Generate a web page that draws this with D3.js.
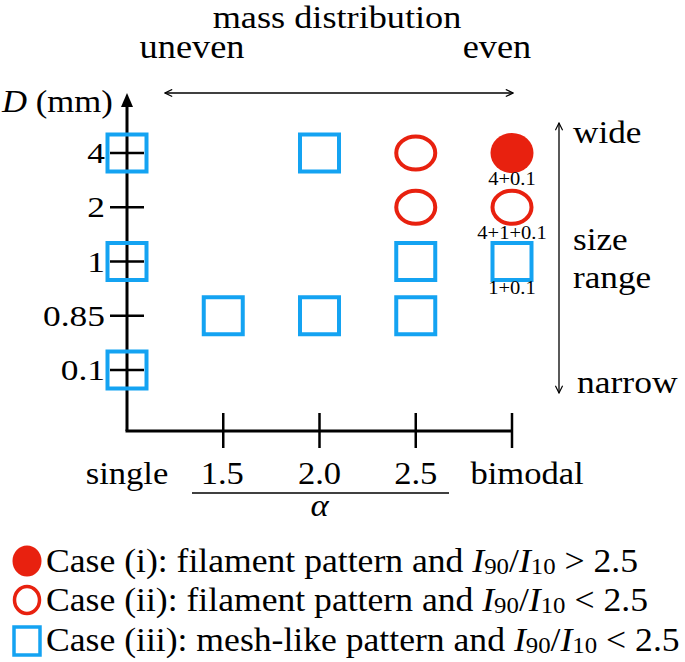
<!DOCTYPE html>
<html><head><meta charset="utf-8">
<script src="https://cdn.jsdelivr.net/npm/d3@7"></script>
<style>body{margin:0;background:#fff}svg{display:block}text{font-family:"Liberation Serif","Times New Roman",serif;fill:#000}</style>
</head><body><svg id="c" width="685" height="662"></svg>
<script>
const xCategories = ["single", "1.5", "2.0", "2.5", "bimodal"];
const yCategories = ["4", "2", "1", "0.85", "0.1"];
// case: "i" filled circle, "ii" open circle, "iii" open square
const points = [
  {x: "single", y: "4", c: "iii"},
  {x: "single", y: "1", c: "iii"},
  {x: "single", y: "0.1", c: "iii"},
  {x: "1.5", y: "0.85", c: "iii"},
  {x: "2.0", y: "4", c: "iii"},
  {x: "2.0", y: "0.85", c: "iii"},
  {x: "2.5", y: "4", c: "ii"},
  {x: "2.5", y: "2", c: "ii"},
  {x: "2.5", y: "1", c: "iii"},
  {x: "2.5", y: "0.85", c: "iii"},
  {x: "bimodal", y: "4", c: "i", label: "4+0.1"},
  {x: "bimodal", y: "2", c: "ii", label: "4+1+0.1"},
  {x: "bimodal", y: "1", c: "iii", label: "1+0.1"}
];
const legendItems = [
  {c: "i", text: "Case (i): filament pattern and ", op: "> 2.5"},
  {c: "ii", text: "Case (ii): filament pattern and ", op: "< 2.5"},
  {c: "iii", text: "Case (iii): mesh-like pattern and ", op: "< 2.5"}
];

const RED = "#e8210f", BLUE = "#14a3f2";
const svg = d3.select("#c");
const x = d3.scalePoint().domain(xCategories).range([127, 512]);
const y = d3.scalePoint().domain(yCategories).range([153, 370]);
const X0 = 127, Y0 = 431, YTOP = 95;

function txt(g, s, tx, ty, size, anchor, sx) {
  return g.append("text").attr("transform", `translate(${tx},${ty}) scale(${sx || 1.1},1)`)
    .attr("font-size", size).attr("text-anchor", anchor || "start").text(s);
}

// arrow markers
const defs = svg.append("defs");
defs.append("marker").attr("id", "open").attr("viewBox", "0 0 10 10").attr("refX", 9).attr("refY", 5)
  .attr("markerWidth", 9).attr("markerHeight", 9).attr("markerUnits", "userSpaceOnUse").attr("orient", "auto-start-reverse")
  .append("path").attr("d", "M1,1 L9,5 L1,9").attr("fill", "none").attr("stroke", "#000").attr("stroke-width", 1.3);

// axes
const ax = svg.append("g");
ax.append("line").attr("x1", X0).attr("x2", X0).attr("y1", Y0).attr("y2", YTOP + 10).attr("stroke", "#000").attr("stroke-width", 3);
ax.append("path").attr("d", `M${X0},${YTOP - 2} L${X0 - 6},${YTOP + 12} L${X0 + 6},${YTOP + 12} Z`).attr("fill", "#000");
ax.append("line").attr("x1", X0 - 1.5).attr("x2", x("bimodal")).attr("y1", Y0).attr("y2", Y0).attr("stroke", "#000").attr("stroke-width", 3);

// y ticks
yCategories.forEach(d => {
  ax.append("line").attr("x1", X0 - 17).attr("x2", X0 + 17).attr("y1", y(d)).attr("y2", y(d)).attr("stroke", "#000").attr("stroke-width", 2.5);
  txt(ax, d, 105, y(d) + 10, 30, "end", 1.18);
});
// x ticks
xCategories.slice(1).forEach(d => {
  ax.append("line").attr("x1", x(d)).attr("x2", x(d)).attr("y1", Y0 - 18).attr("y2", Y0 + 17).attr("stroke", "#000").attr("stroke-width", 2.5);
});
xCategories.forEach(d => {
  const off = d === "bimodal" ? 15 : (d === "1.5" ? -1 : 0);
  txt(ax, d, x(d) + off, 484, 32, "middle", 1.08);
});
ax.append("line").attr("x1", 192).attr("x2", 449).attr("y1", 493).attr("y2", 493).attr("stroke", "#000").attr("stroke-width", 1.5);
txt(ax, "α", x("2.0"), 516, 32, "middle", 1.08).attr("font-style", "italic");

// y title
const yt = svg.append("text").attr("transform", "translate(2,112) scale(1.12,1)").attr("font-size", 31);
yt.append("tspan").attr("font-style", "italic").text("D");
yt.append("tspan").text(" (mm)");

// top annotation
txt(svg, "mass distribution", 337, 28, 31, "middle", 1.17);
txt(svg, "uneven", 192, 58, 33, "middle", 1.1);
txt(svg, "even", 497, 58, 33, "middle", 1.1);
svg.append("line").attr("x1", 165).attr("x2", 513).attr("y1", 93).attr("y2", 93).attr("stroke", "#000").attr("stroke-width", 1.3)
  .attr("marker-start", "url(#open)").attr("marker-end", "url(#open)");

// right annotation
svg.append("line").attr("x1", 559).attr("x2", 559).attr("y1", 123).attr("y2", 393).attr("stroke", "#000").attr("stroke-width", 1.3)
  .attr("marker-start", "url(#open)").attr("marker-end", "url(#open)");
txt(svg, "wide", 573, 143, 32, "start", 1.1);
txt(svg, "size", 573, 250, 32, "start", 1.1);
txt(svg, "range", 573, 288, 32, "start", 1.1);
txt(svg, "narrow", 577, 393, 32, "start", 1.11);

// markers
function marker(g, c, cx, cy, big) {
  if (c === "iii") {
    const w = big ? 39 : 26, h = big ? 37 : 28;
    g.append("rect").attr("x", cx - w / 2).attr("y", cy - h / 2).attr("width", w).attr("height", h)
      .attr("fill", "none").attr("stroke", BLUE).attr("stroke-width", big ? 4 : 3.5);
  } else if (c === "ii") {
    g.append("ellipse").attr("cx", cx).attr("cy", cy).attr("rx", big ? 19.5 : 12.5).attr("ry", big ? 16.5 : 13.5)
      .attr("fill", "none").attr("stroke", RED).attr("stroke-width", big ? 4 : 3.5);
  } else {
    g.append("ellipse").attr("cx", cx).attr("cy", cy).attr("rx", big ? 21.5 : 14.5).attr("ry", big ? 20 : 15.5)
      .attr("fill", RED);
  }
}
const mg = svg.append("g");
points.forEach(p => {
  marker(mg, p.c, x(p.x), y(p.y), true);
  if (p.label) txt(mg, p.label, x(p.x), y(p.y) + 32, 18, "middle", 1.14);
});

// legend
const lg = svg.append("g");
const legY = [561, 600, 641], legBase = [572, 611, 651];
legendItems.forEach((d, i) => {
  marker(lg, d.c, 27, legY[i], false);
  const t = lg.append("text").attr("transform", `translate(46,${legBase[i]}) scale(1.08,1)`).attr("font-size", 33);
  t.append("tspan").text(d.text);
  t.append("tspan").attr("font-style", "italic").text("I");
  t.append("tspan").attr("font-size", 23).attr("dy", 2).text("90");
  t.append("tspan").attr("dy", -2).text("/");
  t.append("tspan").attr("font-style", "italic").text("I");
  t.append("tspan").attr("font-size", 23).attr("dy", 2).text("10");
  t.append("tspan").attr("dy", -2).text(" " + d.op);
});
</script></body></html>
